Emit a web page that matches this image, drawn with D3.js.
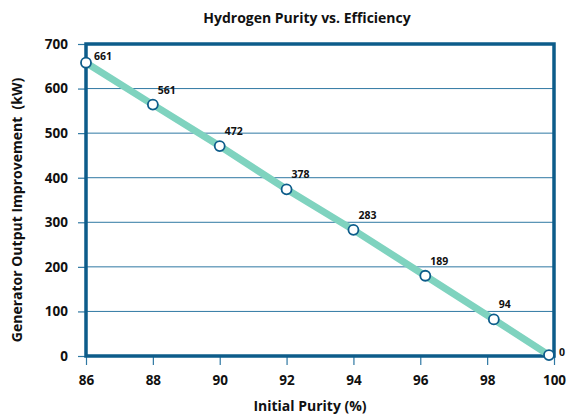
<!DOCTYPE html>
<html>
<head>
<meta charset="utf-8">
<style>
  body { margin: 0; background: #fff; }
  text { font-family: "Open Sans", sans-serif; font-weight: bold; fill: #111; }
</style>
</head>
<body>
<svg id="chart"></svg>
<script src="https://cdn.jsdelivr.net/npm/d3@7"></script>
<script>
  // data (plotted positions) and the printed labels
  var purity = [86, 88, 90, 92, 94, 96.15, 98.2, 99.85];
  var output = [658, 564, 471, 374, 283, 180, 82, 2];
  var pointLabels = ["661", "561", "472", "378", "283", "189", "94", "0"];
  var xTicks = [86, 88, 90, 92, 94, 96, 98, 100];
  var yTicks = [0, 100, 200, 300, 400, 500, 600, 700];

  var W = 567, H = 414;
  var margin = {top: 44, right: 13, bottom: 58, left: 86};
  var width = W - margin.left - margin.right,
      height = H - margin.top - margin.bottom;

  var blue = "#0d5c8a";

  var svg = d3.select("#chart").attr("width", W).attr("height", H);
  var g = svg.append("g").attr("transform", "translate(" + margin.left + "," + margin.top + ")");

  var x = d3.scaleLinear().domain([86, 100]).range([0, width]);
  var y = d3.scaleLinear().domain([0, 700]).range([height, 0]);

  // grid lines
  g.append("g").selectAll("line")
    .data(yTicks.filter(d => d > 0 && d < 700))
    .enter().append("line")
      .attr("x1", 0).attr("x2", width)
      .attr("y1", d => y(d)).attr("y2", d => y(d))
      .attr("stroke", "#2f78a3").attr("stroke-width", 1);

  // axes
  var yAxis = g.append("g")
    .call(d3.axisLeft(y).tickValues(yTicks).tickSize(8).tickPadding(8));
  var xAxis = g.append("g")
    .attr("transform", "translate(0," + height + ")")
    .call(d3.axisBottom(x).tickValues(xTicks).tickSize(9).tickPadding(10));
  [xAxis, yAxis].forEach(a => {
    a.select(".domain").remove();
    a.selectAll(".tick line").attr("stroke", "#2f78a3").attr("stroke-width", 1.2);
    a.selectAll(".tick text").style("font-size", "13.5px").attr("fill", "#111");
  });
  yAxis.selectAll(".tick text").attr("dx", "-2");

  // frame
  g.append("rect")
    .attr("x", 0).attr("y", 0).attr("width", width).attr("height", height)
    .attr("fill", "none").attr("stroke", blue).attr("stroke-width", 3.5);

  var pts = purity.map((p, i) => ({x: p, y: output[i], label: pointLabels[i]}));

  g.append("path")
    .datum(pts)
    .attr("d", d3.line().x(d => x(d.x)).y(d => y(d.y)))
    .attr("fill", "none")
    .attr("stroke", "#7fd3bf")
    .attr("stroke-width", 7);

  g.selectAll("circle.pt")
    .data(pts)
    .enter().append("circle")
      .attr("class", "pt")
      .attr("cx", d => x(d.x)).attr("cy", d => y(d.y))
      .attr("r", 5)
      .attr("fill", "#fff").attr("stroke", blue).attr("stroke-width", 1.8);

  var last = pts.length - 1;
  g.selectAll("text.lbl")
    .data(pts)
    .enter().append("text")
      .attr("class", "lbl")
      .attr("x", (d, i) => i == last ? x(d.x) + 10 : x(d.x) + (i == 0 ? 8 : 5))
      .attr("y", (d, i) => i == last ? y(d.y) + 1 : Math.max(y(d.y) - 11, 16))
      .style("font-size", "10.5px")
      .text(d => d.label);

  // titles
  svg.append("text")
    .attr("x", 307).attr("y", 23)
    .attr("text-anchor", "middle")
    .style("font-size", "14px")
    .text("Hydrogen Purity vs. Efficiency");

  svg.append("text")
    .attr("x", 310).attr("y", 411)
    .attr("text-anchor", "middle")
    .style("font-size", "14px")
    .text("Initial Purity (%)");

  svg.append("text")
    .attr("transform", "translate(22," + (margin.top + height / 2 + 10) + ") rotate(-90)")
    .attr("text-anchor", "middle")
    .style("font-size", "14px")
    .style("white-space", "pre")
    .text("Generator Output Improvement  (kW)");
</script>
</body>
</html>
